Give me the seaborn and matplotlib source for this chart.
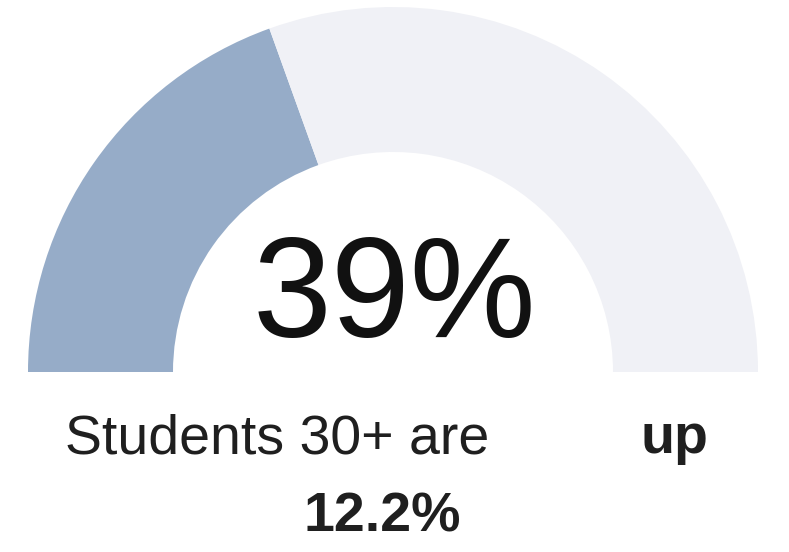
import matplotlib
matplotlib.use("Agg")
import matplotlib.pyplot as plt
import seaborn as sns

# Gauge data: share of students aged 30+, and change
share_pct = 39
remainder_pct = 100 - share_pct
headline = f"{share_pct}%"
caption_left = "Students 30+ are"
caption_right = "up"
change_label = "12.2%"

fill_color = "#96acc8"
track_color = "#f0f1f6"
text_color = "#1f1f1f"

sns.set_theme(style="white")
plt.rcParams["font.family"] = ["Liberation Sans", "DejaVu Sans"]

W, H = 789, 552
fig = plt.figure(figsize=(W / 100, H / 100), dpi=100)
ax = fig.add_axes([0, 0, 1, 1])

# Half-donut: the lower half of the pie is an invisible wedge
cx, cy, r_out, ring = 393, H - 372, 365, 145
ax.pie(
    [share_pct, remainder_pct, 100],
    colors=[fill_color, track_color, "none"],
    startangle=180,
    counterclock=False,
    center=(cx, cy),
    radius=r_out,
    wedgeprops=dict(width=ring, linewidth=0),
    frame=True,
)
ax.set_xlim(0, W)
ax.set_ylim(0, H)
ax.set_aspect("auto")
ax.axis("off")

ax.text(394, H - 337, headline, ha="center", va="baseline",
        fontsize=102, color="#111111")
ax.text(65, H - 453, caption_left, ha="left", va="baseline",
        fontsize=40, color=text_color)
ax.text(641, H - 453, caption_right, ha="left", va="baseline",
        fontsize=40, fontweight="bold", color=text_color)
ax.text(382, H - 531, change_label, ha="center", va="baseline",
        fontsize=40, fontweight="bold", color=text_color)

fig.savefig("out.png", dpi=100, facecolor="white")
